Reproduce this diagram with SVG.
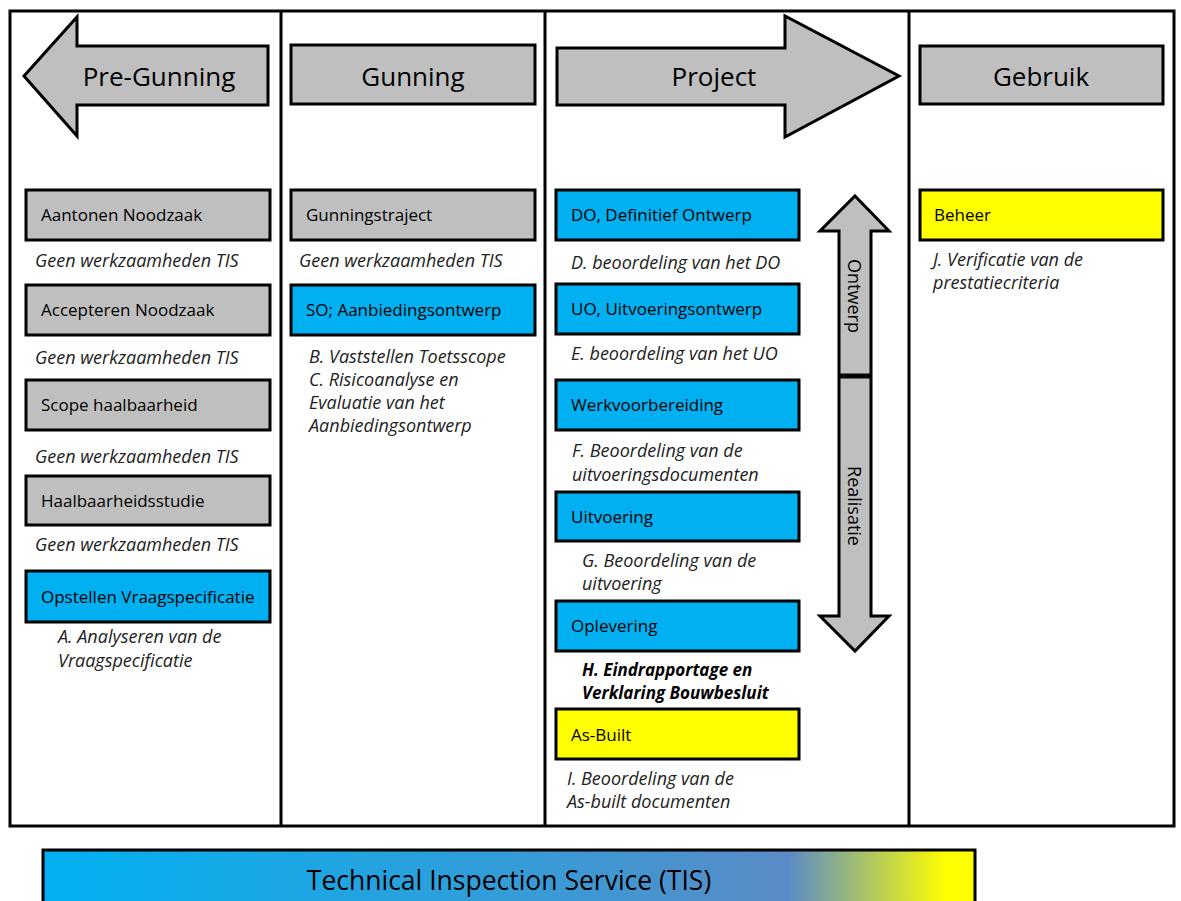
<svg xmlns="http://www.w3.org/2000/svg" width="1181" height="901" viewBox="0 0 1181 901">
<defs>
<style>
text{font-family:"Open Sans","Noto Sans","DejaVu Sans",sans-serif;fill:#000}
.hd{font-size:26px;text-anchor:middle}
.bx{font-size:17px}
.rt{font-size:18px;text-anchor:middle;dominant-baseline:central}
.it{font-size:18px;font-style:italic;fill:#222}
.bi{font-size:17px;font-style:italic;font-weight:bold}
.grey{fill:#BFBFBF;stroke:#000;stroke-width:3}
.blue{fill:#00B0F0;stroke:#000;stroke-width:3}
.yel{fill:#FFFF00;stroke:#000;stroke-width:3}
.frame{fill:none;stroke:#000;stroke-width:3}
</style>
<linearGradient id="tisg" x1="0" y1="0" x2="1" y2="0">
<stop offset="0" stop-color="#00B0F0"/>
<stop offset="0.45" stop-color="#2E9FDB"/>
<stop offset="0.8" stop-color="#5A8BC6"/>
<stop offset="0.97" stop-color="#FFFF00"/>
<stop offset="1" stop-color="#FFFF00"/>
</linearGradient>
</defs>
<rect width="1181" height="901" fill="#fff"/>

<g id="frame">
<rect class="frame" x="10" y="11" width="1164" height="815"/>
<line class="frame" x1="281" y1="11" x2="281" y2="826"/>
<line class="frame" x1="545" y1="11" x2="545" y2="826"/>
<line class="frame" x1="909" y1="11" x2="909" y2="826"/>
</g>

<g id="pre-gunning">
<polygon class="grey" points="24,76 77,17 77,46 268,46 268,105 77,105 77,136"/>
<text class="hd" x="159" y="86">Pre-Gunning</text>
</g>
<g id="gunning">
<rect class="grey" x="291" y="45" width="244" height="59"/>
<text class="hd" x="413" y="86">Gunning</text>
</g>
<g id="project">
<polygon class="grey" points="557,48 785,48 785,16 899,76 785,137 785,105 557,105"/>
<text class="hd" x="714" y="86">Project</text>
</g>
<g id="gebruik">
<rect class="grey" x="920" y="46" width="243" height="58"/>
<text class="hd" x="1041" y="86">Gebruik</text>
</g>

<g id="aantonen">
<rect class="grey" x="26" y="190" width="244" height="50"/>
<text class="bx" x="41" y="221">Aantonen Noodzaak</text>
</g>
<text class="it" x="35" y="267">Geen werkzaamheden TIS</text>
<g id="accepteren">
<rect class="grey" x="26" y="285" width="244" height="50"/>
<text class="bx" x="41" y="316">Accepteren Noodzaak</text>
</g>
<text class="it" x="35" y="364">Geen werkzaamheden TIS</text>
<g id="scope">
<rect class="grey" x="26" y="380" width="244" height="50"/>
<text class="bx" x="41" y="411">Scope haalbaarheid</text>
</g>
<text class="it" x="35" y="463">Geen werkzaamheden TIS</text>
<g id="haalbaarheid">
<rect class="grey" x="26" y="476" width="244" height="49"/>
<text class="bx" x="41" y="507">Haalbaarheidsstudie</text>
</g>
<text class="it" x="35" y="551">Geen werkzaamheden TIS</text>
<g id="opstellen">
<rect class="blue" x="26" y="571" width="244" height="51"/>
<text class="bx" x="41" y="603">Opstellen Vraagspecificatie</text>
</g>
<text class="it" x="58" y="643">A. Analyseren van de</text>
<text class="it" x="58" y="667">Vraagspecificatie</text>

<g id="gunningstraject">
<rect class="grey" x="291" y="190" width="244" height="50"/>
<text class="bx" x="306" y="221">Gunningstraject</text>
</g>
<text class="it" x="299" y="267">Geen werkzaamheden TIS</text>
<g id="so">
<rect class="blue" x="291" y="285" width="244" height="50"/>
<text class="bx" x="306" y="316">SO; Aanbiedingsontwerp</text>
</g>
<text class="it" x="309" y="363">B. Vaststellen Toetsscope</text>
<text class="it" x="309" y="386">C. Risicoanalyse en</text>
<text class="it" x="309" y="409">Evaluatie van het</text>
<text class="it" x="309" y="432">Aanbiedingsontwerp</text>

<g id="do">
<rect class="blue" x="556" y="190" width="243" height="50"/>
<text class="bx" x="571" y="221">DO, Definitief Ontwerp</text>
</g>
<text class="it" x="571" y="269">D. beoordeling van het DO</text>
<g id="uo">
<rect class="blue" x="556" y="284" width="243" height="50"/>
<text class="bx" x="571" y="315">UO, Uitvoeringsontwerp</text>
</g>
<text class="it" x="571" y="360">E. beoordeling van het UO</text>
<g id="werkvoorbereiding">
<rect class="blue" x="556" y="380" width="243" height="50"/>
<text class="bx" x="571" y="411">Werkvoorbereiding</text>
</g>
<text class="it" x="572" y="457">F. Beoordeling van de</text>
<text class="it" x="572" y="481">uitvoeringsdocumenten</text>
<g id="uitvoering">
<rect class="blue" x="556" y="492" width="243" height="49"/>
<text class="bx" x="571" y="523">Uitvoering</text>
</g>
<text class="it" x="582" y="567">G. Beoordeling van de</text>
<text class="it" x="582" y="590">uitvoering</text>
<g id="oplevering">
<rect class="blue" x="556" y="601" width="243" height="50"/>
<text class="bx" x="571" y="632">Oplevering</text>
</g>
<text class="bi" x="582" y="676">H. Eindrapportage en</text>
<text class="bi" x="582" y="699">Verklaring Bouwbesluit</text>
<g id="asbuilt">
<rect class="yel" x="556" y="709" width="243" height="50"/>
<text class="bx" x="571" y="741">As-Built</text>
</g>
<text class="it" x="567" y="785">I. Beoordeling van de</text>
<text class="it" x="567" y="808">As-built documenten</text>

<g id="ontwerp-realisatie">
<polygon class="grey" points="855,196 889,231 871,231 871,616 889,616 855,651 820,616 839,616 839,231 820,231"/>
<line x1="839" y1="376" x2="871" y2="376" stroke="#000" stroke-width="5"/>
<text class="rt" transform="translate(855,296) rotate(90)">Ontwerp</text>
<text class="rt" transform="translate(855,506) rotate(90)">Realisatie</text>
</g>

<g id="beheer">
<rect class="yel" x="920" y="190" width="243" height="50"/>
<text class="bx" x="934" y="221">Beheer</text>
</g>
<text class="it" x="933" y="266">J. Verificatie van de</text>
<text class="it" x="933" y="289">prestatiecriteria</text>

<g id="tis">
<rect x="43" y="850" width="932" height="60" fill="url(#tisg)" stroke="#000" stroke-width="3"/>
<text class="hd" x="509" y="890" style="font-size:26.5px">Technical Inspection Service (TIS)</text>
</g>
</svg>
